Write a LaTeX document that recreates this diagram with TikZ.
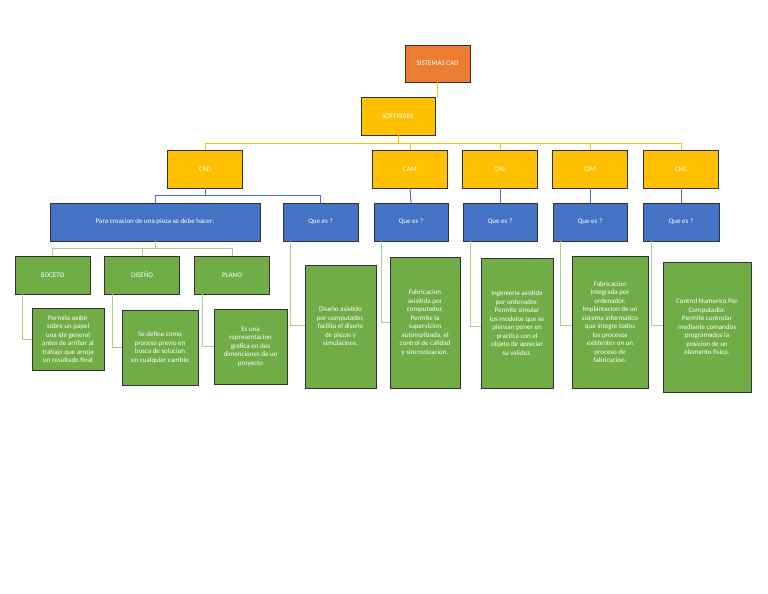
\documentclass[tikz,border=0pt]{standalone}
\usepackage{fontspec}
\setmainfont{Carlito}
\usetikzlibrary{positioning}
\definecolor{orangebox}{HTML}{ED7D31}
\definecolor{yellowbox}{HTML}{FFC000}
\definecolor{bluebox}{HTML}{4472C4}
\definecolor{greenbox}{HTML}{70AD47}
\definecolor{greenline}{HTML}{A9D18E}
\tikzset{
  box/.style={draw=black!80, line width=0.8pt, text=white, font=\fontsize{7}{8.5}\selectfont,
    align=center, inner sep=2pt},
  topbox/.style={box, fill=orangebox, minimum width=65pt, minimum height=37pt},
  softbox/.style={box, fill=yellowbox, minimum width=74pt, minimum height=38pt},
  catbox/.style={box, fill=yellowbox, minimum width=75pt, minimum height=38pt},
  askbox/.style={box, fill=bluebox, minimum height=38pt},
  stagebox/.style={box, fill=greenbox, minimum width=75pt, minimum height=38pt},
  descbox/.style={box, fill=greenbox},
  yline/.style={draw=yellowbox, line width=1pt},
  bline/.style={draw=bluebox, line width=1pt},
  gline/.style={draw=greenline, line width=1pt}
}
\begin{document}
\begin{tikzpicture}[x=1pt,y=-1pt]
    \useasboundingbox (0,0) rectangle (768,594);
    % top
    \node[topbox] (sis) at (437.5,63.5) {SISTEMAS CAD};
    \node[softbox] (soft) at (398,116) {SOFTWARE};
    % categories
    \node[catbox] (cad) at (205,169) {CAD};
    \node[catbox] (cam) at (410,169) {CAM};
    \node[catbox] (cae) at (500,169) {CAE};
    \node[catbox] (cim) at (590,169) {CIM};
    \node[catbox] (cnc) at (681,169) {CNC};
    % questions
    \node[askbox, minimum width=210pt] (para) at (155,222) {Para creacion de una pieza se debe hacer:};
    \node[askbox, minimum width=75pt] (qcad) at (320.5,222) {Que es ?};
    \node[askbox, minimum width=74pt] (qcam) at (411,222) {Que es ?};
    \node[askbox, minimum width=74pt] (qcae) at (500,222) {Que es ?};
    \node[askbox, minimum width=74pt] (qcim) at (590,222) {Que es ?};
    \node[askbox, minimum width=76pt] (qcnc) at (681,222) {Que es ?};
    % stages
    \node[stagebox] (boc) at (52.5,275) {BOCETO};
    \node[stagebox] (dis) at (142,275) {DISEÑO};
    \node[stagebox] (pla) at (232,275) {PLANO};
    % descriptions
    \node[descbox, minimum width=72pt, minimum height=62pt] (dboc) at (68,339) {Permite exibir\\sobre un papel\\una ide general\\antes de arribar al\\trabajo  que arroja\\un resultado final};
    \node[descbox, minimum width=76pt, minimum height=75pt] (ddis) at (160,347.5) {Se define como\\proceso previo en\\busca de solucion\\en cualquier cambio};
    \node[descbox, minimum width=73pt, minimum height=75pt] (dpla) at (250.5,346.5) {Es una\\representacion\\grafica en dos\\dimenciones de un\\proyecto};
    \node[descbox, minimum width=71pt, minimum height=123pt] (dcad) at (340.5,326.5) {Diseño asistido\\por computador,\\facilita el diseño\\de piezas y\\simulacines.};
    \node[descbox, minimum width=70pt, minimum height=131pt] (dcam) at (425,322.5) {Fabricacion\\asisitida por\\computador.\\Permite la\\supervicion\\automatizada, el\\control de calidad\\y sincronizacion.};
    \node[descbox, minimum width=72pt, minimum height=130pt] (dcae) at (517,323) {Ingenieria asistida\\por ordenador.\\Permite simular\\los modelos que se\\piensan poner en\\practica con el\\objeto de apreciar\\su validez.};
    \node[descbox, minimum width=76pt, minimum height=132pt] (dcim) at (610,322) {Fabricacion\\integrada por\\ordenador.\\Implantacion de un\\sistema informatico\\que integre todos\\los procesos\\existentes en un\\proceso de\\fabricacion.};
    \node[descbox, minimum width=88pt, minimum height=130pt] (dcnc) at (707,327) {Control Numerico Por\\Computador.\\Permite controlar\\mediante comandos\\programados la\\posicion de un\\elemento fisico.};
    % connectors
    \draw[yline] (sis.south) -- (sis.south |- soft.north);
    \draw[yline] (soft.south) -- ++(0,8) coordinate (ybar);
    \foreach \c in {cad,cam,cae,cim,cnc}
      \draw[yline] (ybar) -| (\c.north);
    \draw[bline] (cad.south) -- ++(0,7) coordinate (bbar);
    \draw[bline] (bbar) -| (para.north);
    \draw[bline] (bbar) -| (qcad.north);
    \foreach \c/\q in {cam/qcam,cae/qcae,cim/qcim,cnc/qcnc}
      \draw[bline] (\c.south) -- (\q.north);
    \draw[gline] (para.south) -- ++(0,7) coordinate (gbar);
    \foreach \s in {boc,dis,pla}
      \draw[gline] (gbar) -| (\s.north);
    \foreach \p/\d in {boc/dboc,dis/ddis,pla/dpla}
      \draw[gline] ([xshift=-30pt]\p.south) |- (\d.west);
    \foreach \p/\d/\y in {qcad/dcad/328,qcam/dcam/327,qcae/dcae/324,qcim/dcim/324,qcnc/dcnc/329}
      \draw[gline] ([xshift=-30pt]\p.south) |- ([yshift=\y-327]\d.west);
\end{tikzpicture}
\end{document}
